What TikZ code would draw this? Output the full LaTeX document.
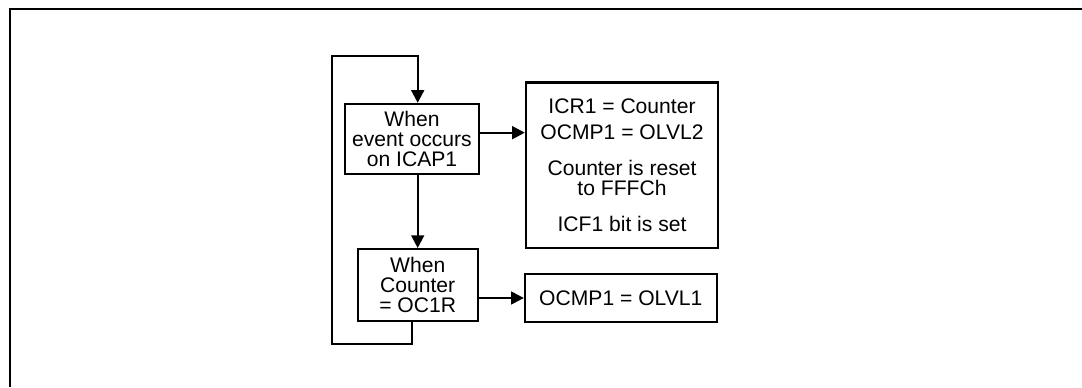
\documentclass[tikz,border=0pt]{standalone}
\usepackage{fontspec}
\setmainfont{Liberation Sans}
\usetikzlibrary{arrows.meta,calc}

\begin{document}
\begin{tikzpicture}[x=0.025cm,y=-0.025cm,
  font=\fontsize{15}{14}\selectfont,
  box/.style={draw,line width=1.6pt,align=center,inner sep=0pt},
  flow/.style={line width=1.6pt,-{Triangle[length=0.32cm,width=0.32cm]}}]
\useasboundingbox (0,0) rectangle (1082,387);
% frame, cut by the page edge on the right and at the bottom
\draw[line width=1.8pt] (10,387) -- (10,9) -- (1082,9);
% tests
\node[box,minimum width=3.35cm,minimum height=1.75cm] (icap) at (412,139) {When\\event occurs\\on ICAP1};
\node[box,minimum width=3.0cm,minimum height=1.79cm] (cmp) at (417.7,285) {When\\Counter\\= OC1R};
% actions
\node[box,minimum width=4.8cm,minimum height=4.13cm] (capt) at (622,165.2) {ICR1 = Counter\\[0.17cm]OCMP1 = OLVL2\\[0.4cm]Counter is reset\\to FFFCh\\[0.42cm]ICF1 bit is set};
\node[box,minimum width=4.79cm,minimum height=1.19cm] (olvl) at (620.8,298) {OCMP1 = OLVL1};
\coordinate (lb) at (332,344);
\coordinate (lt) at (332,55.7);
\draw[flow] ([yshift=4.5pt]icap.east) -- ([yshift=4.5pt]icap.east -| capt.west);
\draw[flow] (icap.south -| cmp.north) -- (cmp.north);
\draw[flow] (cmp.east |- olvl) -- (olvl.west);
\draw[flow] ([xshift=-0.14cm]cmp.south) |- (lb) -- (lt) -| (cmp.north |- icap.north);
\end{tikzpicture}
\end{document}
